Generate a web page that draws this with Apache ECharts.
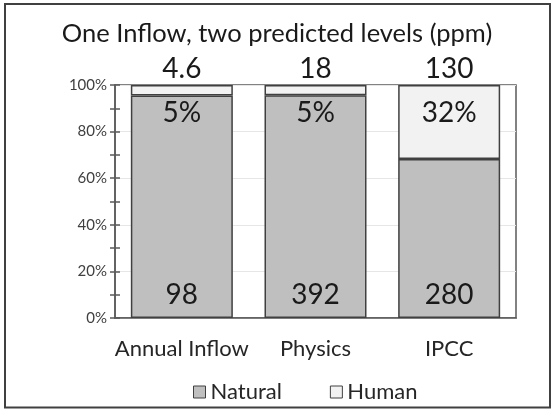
<!DOCTYPE html>
<html>
<head>
<meta charset="utf-8">
<script src="https://cdn.jsdelivr.net/npm/echarts@6/dist/echarts.min.js"></script>
<style>
html,body{margin:0;padding:0;background:#fff;}
#chart{width:554px;height:409px;}
</style>
</head>
<body>
<div id="chart"></div>
<script>
// ---- data ----
var categories = ['Annual Inflow', 'Physics', 'IPCC'];
var naturalValues = [98, 392, 280];
var humanValues = [4.6, 18, 130];
var humanPctLabels = ['5%', '5%', '32%'];
var yTicks = [0, 20, 40, 60, 80, 100];

// shares of each bar (100% stacked)
var naturalShare = naturalValues.map(function (v, i) { return v / (v + humanValues[i]) * 100; });
var humanShare = humanValues.map(function (v, i) { return v / (v + naturalValues[i]) * 100; });
var zeros = categories.map(function () { return 0; });

var FONT = 'Lato';
var chart = echarts.init(document.getElementById('chart'), null, {renderer: 'canvas'});
var yCommon = {
  type: 'value', min: yTicks[0], max: yTicks[yTicks.length - 1], interval: 20,
  position: 'left', offset: 0
};
chart.setOption({
  animation: false,
  backgroundColor: '#ffffff',
  title: {
    text: 'One Inflow, two predicted levels (ppm)',
    left: 'center', top: 16,
    textStyle: {fontFamily: FONT, fontSize: 25.5, fontWeight: 'normal', color: '#1a1a1a'}
  },
  legend: {
    data: ['Natural', 'Human'],
    left: 188, top: 376,
    icon: 'rect', itemWidth: 12, itemHeight: 12, itemGap: 48,
    textStyle: {fontFamily: FONT, fontSize: 22, color: '#262626'},
    itemStyle: {borderColor: '#404040', borderWidth: 1}
  },
  grid: {
    left: 115, right: 38, top: 85, bottom: 91,
    show: true, borderColor: '#595959', borderWidth: 1.5, backgroundColor: 'transparent'
  },
  xAxis: {
    type: 'category', data: categories,
    axisLine: {lineStyle: {color: '#595959', width: 1.5}},
    axisTick: {show: false},
    axisLabel: {fontFamily: FONT, fontSize: 22, color: '#262626', margin: 20, interval: 0}
  },
  yAxis: [
    Object.assign({}, yCommon, {
      axisLine: {show: true, lineStyle: {color: '#595959', width: 1.5}},
      axisTick: {show: true, inside: false, length: 5, lineStyle: {color: '#595959', width: 1.5}},
      minorTick: {show: true, splitNumber: 2, length: 5, lineStyle: {color: '#595959', width: 1.5}},
      axisLabel: {fontFamily: FONT, fontSize: 15, color: '#404040', margin: 8,
        formatter: function (v) { return v + '%'; }},
      splitLine: {show: true, lineStyle: {color: '#e6e6e6', width: 1}}
    }),
    Object.assign({}, yCommon, {
      axisLine: {show: false},
      axisTick: {show: true, inside: true, length: 5, lineStyle: {color: '#595959', width: 1.5}},
      minorTick: {show: true, splitNumber: 2, length: 5, lineStyle: {color: '#595959', width: 1.5}},
      axisLabel: {show: false},
      splitLine: {show: false}
    })
  ],
  series: [
    {
      name: 'Natural', type: 'bar', stack: 'total', barWidth: 102,
      data: naturalShare,
      itemStyle: {color: '#bfbfbf', borderColor: '#404040', borderWidth: 1.5},
      label: {
        show: true, position: 'insideBottom', distance: 9,
        fontFamily: FONT, fontSize: 28, color: '#1a1a1a',
        formatter: function (p) { return String(naturalValues[p.dataIndex]); }
      }
    },
    {
      name: 'Human', type: 'bar', stack: 'total', barWidth: 102,
      data: humanShare,
      itemStyle: {color: '#f2f2f2', borderColor: '#404040', borderWidth: 1.5},
      label: {
        show: true, position: 'insideTop', distance: 14,
        fontFamily: FONT, fontSize: 28, color: '#1a1a1a',
        formatter: function (p) { return humanPctLabels[p.dataIndex]; }
      }
    },
    {
      name: 'HumanValue', type: 'bar', stack: 'total', barWidth: 102,
      data: zeros, silent: true,
      itemStyle: {color: 'transparent', borderWidth: 0},
      label: {
        show: true, position: 'top', distance: 2,
        fontFamily: FONT, fontSize: 28, color: '#1a1a1a',
        formatter: function (p) { return String(humanValues[p.dataIndex]); }
      }
    }
  ],
  graphic: [{
    type: 'rect', silent: true,
    shape: {x: 5, y: 4, width: 545, height: 403.5},
    style: {fill: 'none', stroke: '#404040', lineWidth: 2}
  }]
});
</script>
</body>
</html>
